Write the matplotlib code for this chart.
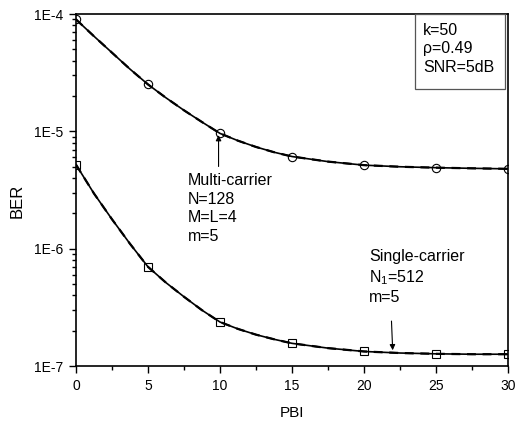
import matplotlib
matplotlib.use("Agg")
import matplotlib.pyplot as plt
import numpy as np
from matplotlib.patches import Rectangle
from matplotlib.ticker import FixedLocator, LogLocator, NullFormatter

plt.rcParams['font.family'] = ['Liberation Sans', 'DejaVu Sans']

# curve values
pbi = [0, 1.25, 2.5, 3.75, 5, 6.25, 7.5, 8.75, 10, 11.25, 12.5, 13.75, 15,
       17.5, 20, 22.5, 25, 27.5, 30]
multi = [8.99e-5, 6.46e-5, 4.68e-5, 3.39e-5, 2.51e-5, 1.93e-5, 1.51e-5, 1.20e-5,
         9.6e-6, 8.32e-6, 7.36e-6, 6.64e-6, 6.1e-6, 5.52e-6, 5.15e-6, 4.99e-6,
         4.9e-6, 4.84e-6, 4.79e-6]
single = [5.2e-6, 2.95e-6, 1.78e-6, 1.10e-6, 7.0e-7, 5.13e-7, 3.89e-7, 2.99e-7,
          2.37e-7, 2.07e-7, 1.85e-7, 1.69e-7, 1.56e-7, 1.42e-7, 1.33e-7, 1.29e-7,
          1.27e-7, 1.26e-7, 1.26e-7]

# marker points
pbi_m = [0, 5, 10, 15, 20, 25, 30]
multi_m = [8.99e-5, 2.51e-5, 9.6e-6, 6.1e-6, 5.15e-6, 4.9e-6, 4.79e-6]
single_m = [5.2e-6, 7.0e-7, 2.37e-7, 1.56e-7, 1.33e-7, 1.27e-7, 1.26e-7]

fig = plt.figure(figsize=(5.15, 4.23), dpi=100)
ax = fig.add_axes([76/515, 1-366/423, 432/515, 352/423])

# theory (solid) and simulation (dashed) nearly on top of each other
ax.plot(pbi, multi, color='black', lw=1.2)
ax.plot(pbi, multi, color='black', lw=1.6, ls=(0, (4, 3)))
ax.plot(pbi_m, multi_m, ls='none', marker='o', ms=6, mfc='none', mec='black', mew=0.8)
ax.plot(pbi, single, color='black', lw=1.2)
ax.plot(pbi, single, color='black', lw=1.6, ls=(0, (4, 3)))
ax.plot(pbi_m, single_m, ls='none', marker='s', ms=6, mfc='none', mec='black', mew=0.8)

ax.set_yscale('log')
ax.set_xlim(0, 30)
ax.set_ylim(1e-7, 1e-4)
ax.set_yticks([1e-7, 1e-6, 1e-5, 1e-4])
ax.set_yticklabels(['1E-7', '1E-6', '1E-5', '1E-4'])
ax.yaxis.set_minor_locator(LogLocator(base=10, subs=np.arange(2, 10)))
ax.yaxis.set_minor_formatter(NullFormatter())
ax.set_xticks([0, 5, 10, 15, 20, 25, 30])
ax.xaxis.set_minor_locator(FixedLocator(np.arange(0, 30.1, 2.5)))

ax.tick_params(which='both', direction='out', top=False, right=False, labelsize=10, width=1)
ax.tick_params(which='major', length=5, pad=4)
ax.tick_params(which='minor', length=3)
for s in ax.spines.values():
    s.set_linewidth(1.2)

ax.set_xlabel('PBI', fontsize=11, labelpad=10)
ax.set_ylabel('BER', fontsize=12)
ax.yaxis.set_label_coords(-0.118, 0.47)

# parameter box in the top right corner
ax.add_patch(Rectangle((0.785, 0.787), 0.208, 0.213, transform=ax.transAxes,
                       fc='white', ec='#555555', lw=0.9, zorder=3))
ax.text(0.803, 0.975, 'k=50\n\u03c1=0.49\nSNR=5dB', transform=ax.transAxes,
        fontsize=11.5, va='top', ha='left', linespacing=1.3, zorder=4)

ax.annotate('', xy=(9.9, 9.8e-6), xytext=(9.9, 4.75e-6),
            arrowprops=dict(arrowstyle='-|>', color='black', lw=0.8, mutation_scale=8))
ax.text(7.78, 4.4e-6, 'Multi-carrier\nN=128\nM=L=4\nm=5', fontsize=11.5,
        va='top', ha='left', linespacing=1.3)

ax.annotate('', xy=(22.0, 1.29e-7), xytext=(21.9, 2.55e-7),
            arrowprops=dict(arrowstyle='-|>', color='black', lw=0.8, mutation_scale=8))
ax.text(20.35, 1.0e-6, 'Single-carrier\nN$_{\\mathregular{1}}$=512\nm=5', fontsize=11.5,
        va='top', ha='left', linespacing=1.3)

fig.savefig('out.png', dpi=100)
